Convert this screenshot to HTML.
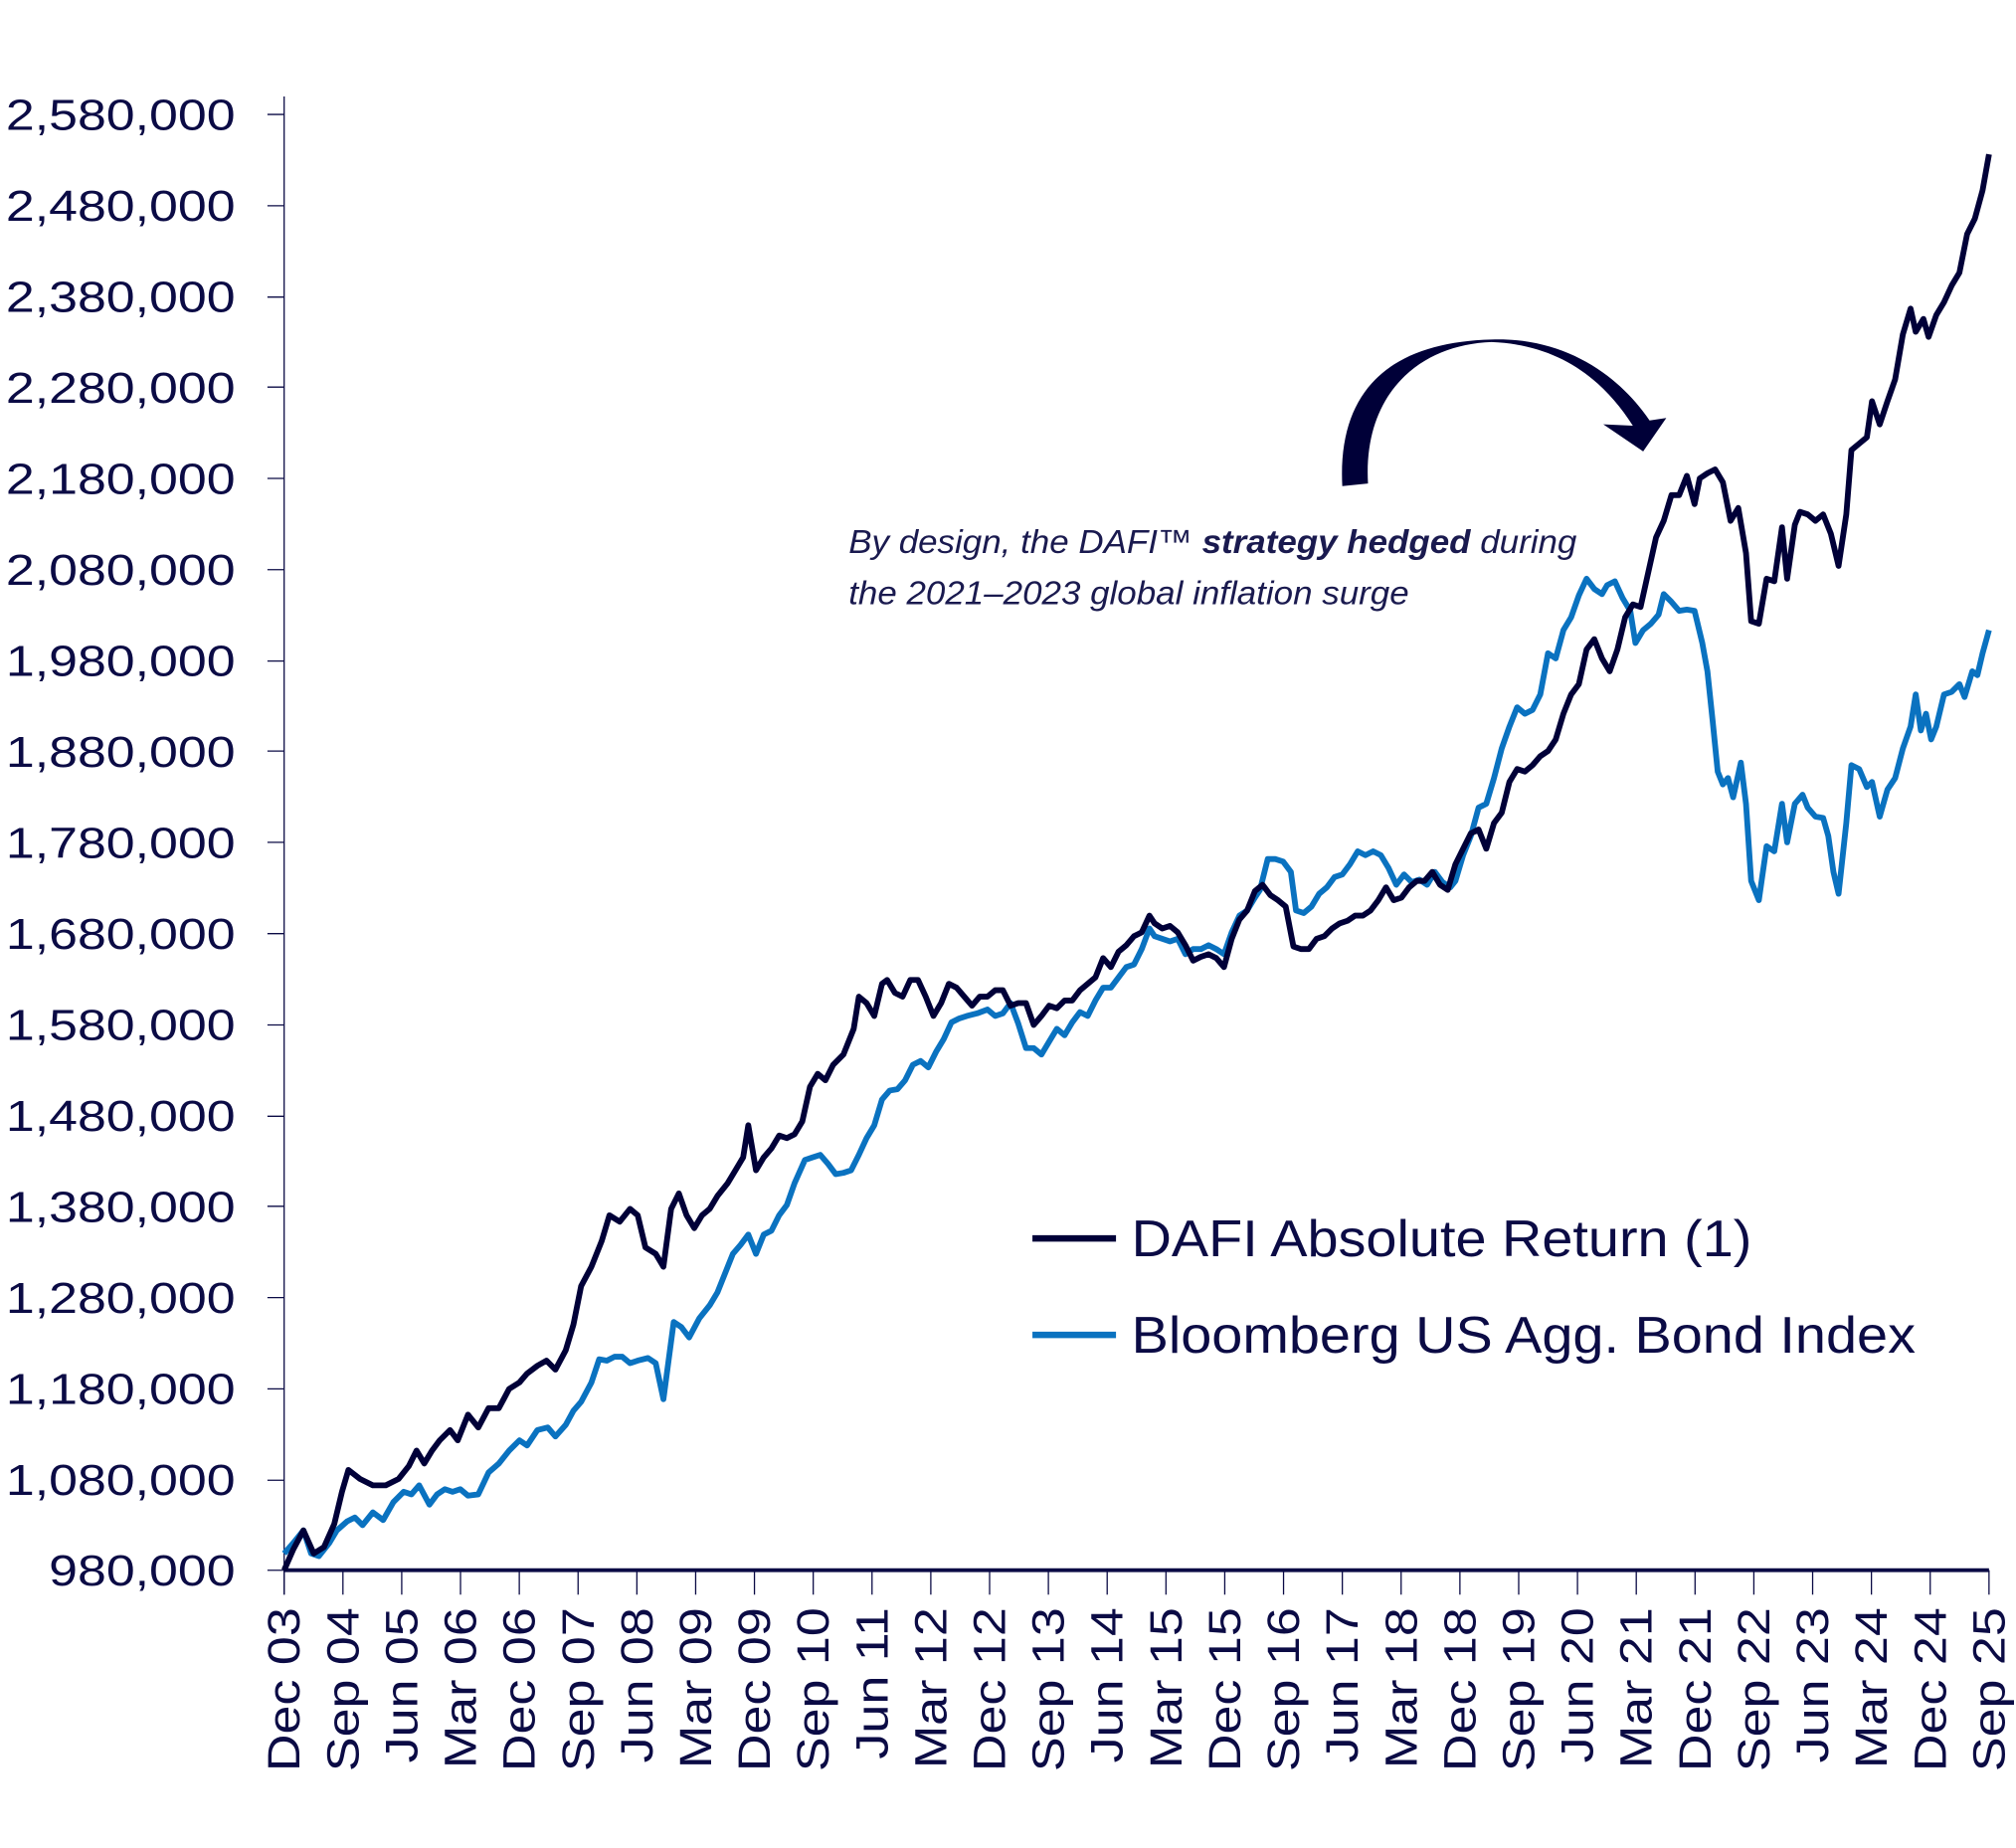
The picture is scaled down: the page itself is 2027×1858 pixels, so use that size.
<!DOCTYPE html>
<html><head><meta charset="utf-8"><style>html,body{margin:0;padding:0;background:#fff}svg{display:block}</style></head>
<body>
<svg width="2027" height="1858" viewBox="0 0 1568 1437" preserveAspectRatio="none" xmlns="http://www.w3.org/2000/svg" font-family="'Liberation Sans', sans-serif">
<g id="yl" fill="#0b0b45" font-size="34" text-anchor="end"></g>
<g stroke="#0b0b45" stroke-width="1">
<line x1="221" y1="75" x2="221" y2="1240"/>
<line x1="208" y1="89" x2="221" y2="89"/><line x1="208" y1="160" x2="221" y2="160"/><line x1="208" y1="231" x2="221" y2="231"/><line x1="208" y1="301" x2="221" y2="301"/><line x1="208" y1="372" x2="221" y2="372"/><line x1="208" y1="443" x2="221" y2="443"/><line x1="208" y1="514" x2="221" y2="514"/><line x1="208" y1="584" x2="221" y2="584"/><line x1="208" y1="655" x2="221" y2="655"/><line x1="208" y1="726" x2="221" y2="726"/><line x1="208" y1="797" x2="221" y2="797"/><line x1="208" y1="868" x2="221" y2="868"/><line x1="208" y1="938" x2="221" y2="938"/><line x1="208" y1="1009" x2="221" y2="1009"/><line x1="208" y1="1080" x2="221" y2="1080"/><line x1="208" y1="1151" x2="221" y2="1151"/><line x1="208" y1="1221" x2="221" y2="1221"/>
</g>
<line x1="221" y1="1221" x2="1547" y2="1221" stroke="#0b0b45" stroke-width="3"/>
<g id="ticks" stroke="#0b0b45" stroke-width="1"></g>
<g id="xl" fill="#0b0b45" font-size="35"></g>
<polyline fill="none" stroke="#0a72c0" stroke-width="4.5" stroke-linejoin="round" points="221,1208 228,1200 236,1190 242,1208 248,1210 256,1200 262,1190 270,1183 276,1180 282,1186 290,1176 298,1182 306,1168 314,1160 320,1162 326,1155 334,1170 340,1162 346,1158 352,1160 358,1158 364,1163 372,1162 380,1145 388,1138 396,1128 404,1120 410,1124 418,1112 426,1110 432,1117 440,1108 446,1097 452,1090 460,1075 466,1057 472,1058 478,1055 484,1055 490,1060 496,1058 504,1056 510,1060 516,1088 524,1028 530,1032 536,1040 544,1025 552,1015 558,1005 564,990 570,975 576,968 582,960 588,975 594,960 600,957 606,945 612,937 618,920 626,902 632,900 638,898 644,905 650,913 656,912 662,910 668,898 674,885 680,875 686,855 692,848 698,847 704,840 710,828 716,825 722,830 728,818 734,808 740,795 746,792 752,790 760,788 768,785 774,790 780,788 786,780 792,796 798,815 804,815 810,820 816,810 822,800 828,805 834,795 840,787 846,790 852,778 858,768 864,768 870,760 876,752 882,750 888,738 894,722 898,728 904,730 910,732 916,730 922,742 928,738 934,738 940,735 946,738 952,742 958,725 964,712 970,708 976,698 980,692 986,668 992,668 998,670 1004,678 1008,708 1014,710 1020,705 1026,695 1032,690 1038,682 1044,680 1050,672 1056,662 1062,665 1068,662 1074,665 1080,675 1086,688 1092,680 1098,686 1104,684 1110,688 1116,678 1122,686 1128,690 1132,685 1138,665 1144,650 1150,628 1156,625 1162,605 1168,582 1174,565 1180,550 1186,555 1192,552 1198,540 1204,508 1210,512 1216,490 1222,480 1228,463 1234,450 1240,458 1246,462 1250,455 1256,452 1262,465 1268,475 1272,500 1278,490 1284,485 1290,478 1294,462 1300,468 1306,475 1312,474 1318,475 1324,500 1328,522 1332,560 1336,600 1340,610 1344,605 1348,620 1354,593 1358,625 1362,685 1368,700 1374,658 1380,662 1386,625 1390,655 1396,625 1402,618 1406,628 1412,635 1418,636 1422,650 1426,678 1430,695 1436,640 1440,595 1446,598 1452,612 1456,608 1462,635 1468,614 1474,605 1480,582 1486,565 1490,540 1494,568 1498,555 1502,575 1506,565 1512,540 1518,538 1524,532 1528,542 1534,522 1538,525 1542,508 1547,490"/>
<polyline fill="none" stroke="#000038" stroke-width="4.5" stroke-linejoin="round" points="221,1221 228,1205 236,1190 244,1208 252,1203 260,1185 266,1160 271,1143 280,1150 290,1155 300,1155 310,1150 318,1140 324,1128 330,1138 336,1128 342,1120 350,1112 356,1120 364,1100 372,1110 380,1095 388,1095 396,1080 404,1075 410,1068 418,1062 425,1058 432,1065 440,1050 446,1030 452,1000 460,985 468,965 474,945 482,950 490,940 496,945 502,970 510,975 516,985 522,940 528,928 534,945 540,955 546,945 552,940 558,930 566,920 572,910 578,900 582,875 588,910 594,900 600,893 606,883 612,885 618,882 624,872 630,845 636,835 642,840 648,828 656,820 664,800 668,775 674,780 680,790 686,765 690,762 696,772 702,775 708,762 714,762 720,775 726,790 732,780 738,765 744,768 750,775 756,782 762,775 768,775 774,770 780,770 786,782 792,780 798,780 804,797 810,790 816,782 822,784 828,778 834,778 840,770 846,765 852,760 858,745 864,752 870,740 876,735 882,728 888,725 894,712 898,718 904,722 910,720 916,725 922,735 928,747 934,744 940,742 946,745 952,752 958,730 964,715 970,708 976,693 982,688 988,696 994,700 1000,705 1006,736 1012,738 1018,738 1024,730 1030,728 1036,722 1042,718 1048,716 1054,712 1060,712 1066,708 1072,700 1078,690 1084,700 1090,698 1096,690 1102,685 1108,685 1114,678 1120,688 1126,692 1132,672 1138,660 1144,648 1150,645 1156,660 1162,640 1168,632 1174,608 1180,598 1186,600 1192,595 1198,588 1204,584 1210,575 1216,555 1222,540 1228,532 1234,505 1240,497 1246,512 1252,522 1258,505 1264,480 1270,470 1276,472 1282,445 1288,418 1294,405 1300,385 1306,385 1312,370 1318,392 1322,372 1328,368 1334,365 1340,375 1346,405 1352,395 1358,430 1362,483 1368,485 1374,450 1380,452 1386,410 1390,450 1396,408 1400,398 1406,400 1412,405 1418,400 1424,415 1430,440 1436,400 1440,350 1446,345 1452,340 1456,312 1462,330 1468,312 1474,295 1480,260 1486,240 1490,258 1496,248 1500,262 1506,245 1512,235 1518,222 1524,212 1530,182 1536,170 1542,148 1547,120"/>
<path d="M1044,378 C1040,300 1085,266 1160,264 C1215,262 1258,290 1283,327 L1296,325 L1278,351 L1247,330 L1270,331 C1245,292 1210,268 1160,266 C1105,268 1060,305 1064,376 Z" fill="#000038"/>
<g fill="#1a1a4f" font-size="26" font-style="italic">
<text transform="translate(660,430) scale(1.04,1)">By design, the DAFI™ <tspan font-weight="bold">strategy hedged</tspan> during</text>
<text transform="translate(660,470) scale(1.04,1)">the 2021–2023 global inflation surge</text>
</g>
<line x1="803" y1="963" x2="868" y2="963" stroke="#000038" stroke-width="5"/>
<line x1="803" y1="1038" x2="868" y2="1038" stroke="#0a72c0" stroke-width="5"/>
<g fill="#0b0b45" font-size="40">
<text transform="translate(880,977) scale(1.08,1)">DAFI Absolute Return (1)</text>
<text transform="translate(880,1052) scale(1.08,1)">Bloomberg US Agg. Bond Index</text>
</g>
<script>
var ns="http://www.w3.org/2000/svg";
var yv=["2,580,000","2,480,000","2,380,000","2,280,000","2,180,000","2,080,000","1,980,000","1,880,000","1,780,000","1,680,000","1,580,000","1,480,000","1,380,000","1,280,000","1,180,000","1,080,000","980,000"];
var yl=document.getElementById('yl');
yv.forEach(function(v,i){var y=89+i*70.75+12;var tx=document.createElementNS(ns,'text');tx.setAttribute('transform','translate(183,'+y+') scale(1.18,1)');tx.textContent=v;yl.appendChild(tx);});
var labs=["Dec 03","Sep 04","Jun 05","Mar 06","Dec 06","Sep 07","Jun 08","Mar 09","Dec 09","Sep 10","Jun 11","Mar 12","Dec 12","Sep 13","Jun 14","Mar 15","Dec 15","Sep 16","Jun 17","Mar 18","Dec 18","Sep 19","Jun 20","Mar 21","Dec 21","Sep 22","Jun 23","Mar 24","Dec 24","Sep 25"];
var t=document.getElementById('ticks'),xl=document.getElementById('xl');
labs.forEach(function(l,i){var x=221+i*(1326/29);
var ln=document.createElementNS(ns,'line');ln.setAttribute('x1',x);ln.setAttribute('x2',x);ln.setAttribute('y1',1221);ln.setAttribute('y2',1240);t.appendChild(ln);
var tx=document.createElementNS(ns,'text');tx.setAttribute('transform','translate('+(x+12)+',1250) rotate(-90) scale(1.15,1)');tx.setAttribute('text-anchor','end');tx.textContent=l;xl.appendChild(tx);});
</script>
</svg>
</body></html>
